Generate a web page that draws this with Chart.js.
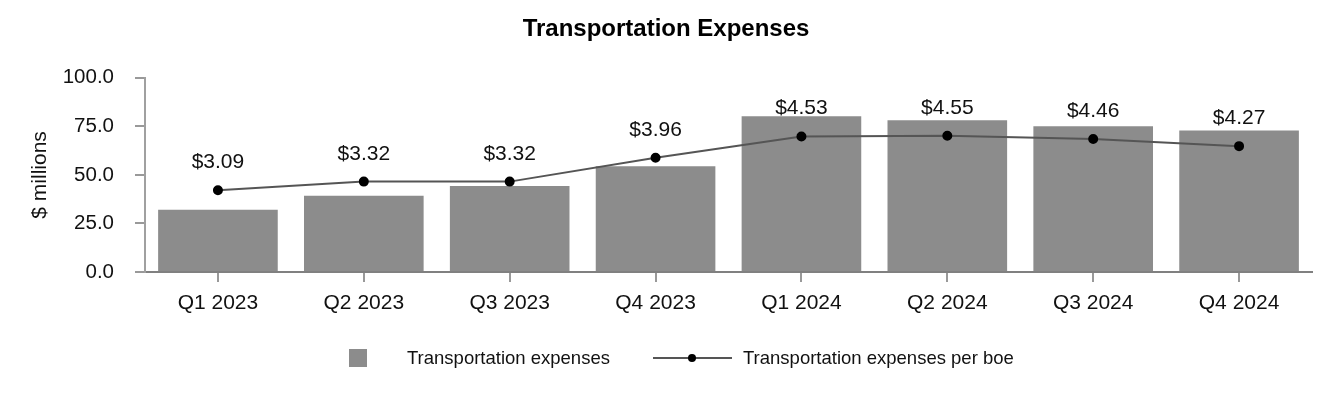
<!DOCTYPE html>
<html>
<head>
<meta charset="utf-8">
<script src="https://cdn.jsdelivr.net/npm/chart.js@4/dist/chart.umd.min.js"></script>
<style>
  html, body { margin: 0; padding: 0; background: #fff; }
  #wrap { position: relative; width: 1332px; height: 400px; font-family: "Liberation Sans", Arial, sans-serif; }
  #legend .sw { position: absolute; left: 349px; top: 349px; width: 18px; height: 18px; background: #8c8c8c; }
  #legend .txt { position: absolute; top: 347px; font-size: 18.5px; line-height: 22px; color: #111; white-space: nowrap; }
  #legend .ln { position: absolute; left: 653px; top: 357px; width: 79px; height: 2px; background: #555; }
  #legend .dot { position: absolute; left: 688px; top: 354px; width: 8px; height: 8px; border-radius: 50%; background: #000; }
</style>
</head>
<body>
<div id="wrap">
  <canvas id="myChart" width="1332" height="400"></canvas>
  <div id="legend">
    <div class="sw"></div>
    <div class="txt" style="left:407px">Transportation expenses</div>
    <div class="ln"></div>
    <div class="dot"></div>
    <div class="txt" style="left:743px">Transportation expenses per boe</div>
  </div>
</div>
<script>
const quarters = ["Q1 2023", "Q2 2023", "Q3 2023", "Q4 2023", "Q1 2024", "Q2 2024", "Q3 2024", "Q4 2024"]
const expenses = [32.0, 39.2, 44.3, 54.5, 80.2, 78.1, 75.0, 72.9]
const perBoe = [3.09, 3.32, 3.32, 3.96, 4.53, 4.55, 4.46, 4.27]

const fontFamily = "'Liberation Sans', Arial, sans-serif"

// writes the $ per boe value over each point of the line
const pointLabels = {
  id: "pointLabels",
  afterDatasetsDraw(chart) {
    const ctx = chart.ctx
    const meta = chart.getDatasetMeta(1)
    ctx.save()
    ctx.font = "21px " + fontFamily
    ctx.fillStyle = "#111"
    ctx.textAlign = "center"
    ctx.textBaseline = "alphabetic"
    meta.data.forEach((pt, i) => {
      ctx.fillText("$" + perBoe[i].toFixed(2), pt.x, pt.y - 22)
    })
    ctx.restore()
  }
}

const ctx = document.getElementById("myChart")

new Chart(ctx, {
  type: "bar",
  data: {
    labels: quarters,
    datasets: [{
      label: "Transportation expenses",
      data: expenses,
      backgroundColor: "#8c8c8c",
      categoryPercentage: 1,
      barPercentage: 0.82,
      yAxisID: "y",
      order: 1
    }, {
      type: "line",
      label: "Transportation expenses per boe",
      data: perBoe,
      borderColor: "#555",
      borderWidth: 2,
      pointBackgroundColor: "#000",
      pointBorderColor: "#000",
      pointRadius: 4,
      tension: 0,
      yAxisID: "y1",
      order: 0
    }]
  },
  options: {
    responsive: false,
    animation: false,
    layout: { padding: { left: 20, right: 20, top: 0, bottom: 0 } },
    plugins: {
      legend: { display: false },
      tooltip: { enabled: false },
      title: {
        display: true,
        text: "Transportation Expenses",
        color: "#000",
        font: { family: fontFamily, size: 24, weight: "bold" },
        padding: { top: 15, bottom: 34 }
      }
    },
    scales: {
      x: {
        grid: { offset: false, drawOnChartArea: false, tickLength: 10, color: "#999", lineWidth: 2 },
        border: { color: "#808080", width: 2 },
        ticks: { color: "#111", padding: 9, font: { family: fontFamily, size: 21 } },
        afterFit: (scale) => { scale.height = 128 }
      },
      y: {
        min: 0,
        max: 100,
        ticks: {
          stepSize: 25,
          color: "#111",
          padding: 21,
          font: { family: fontFamily, size: 20.5 },
          callback: (v) => v.toFixed(1)
        },
        grid: { drawOnChartArea: false, tickLength: 10, color: "#999", lineWidth: 2 },
        border: { color: "#a0a0a0", width: 2 },
        title: {
          display: true,
          text: "$ millions",
          color: "#111",
          font: { family: fontFamily, size: 21 },
          padding: { top: 8, bottom: 0 }
        },
        afterFit: (scale) => { scale.width = 125 }
      },
      y1: {
        display: false,
        min: 0.9,
        max: 6.1
      }
    }
  },
  plugins: [pointLabels]
})
</script>
</body>
</html>
